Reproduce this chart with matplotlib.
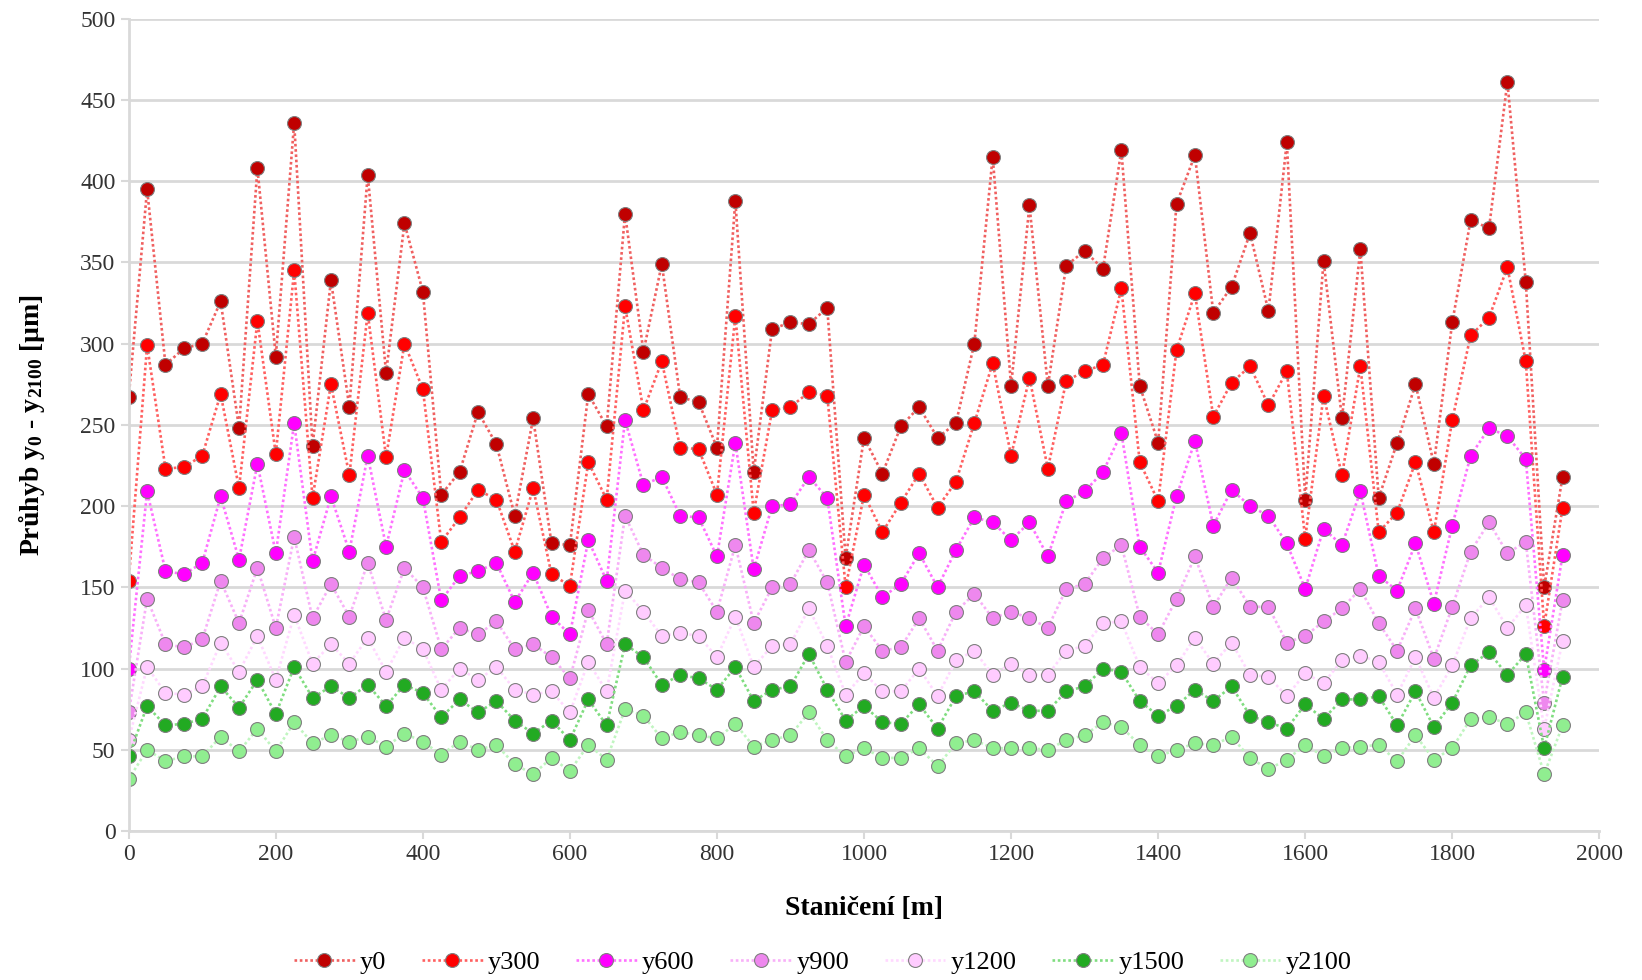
import numpy as np
import matplotlib
matplotlib.use('Agg')
from matplotlib import pyplot as plt

plt.rcParams['font.family'] = 'Liberation Serif'
plt.rcParams['mathtext.fontset'] = 'custom'
plt.rcParams['mathtext.rm'] = 'Liberation Serif:bold'
plt.rcParams['mathtext.it'] = 'Liberation Serif:bold'
plt.rcParams['mathtext.bf'] = 'Liberation Serif:bold'

staniceni = np.arange(0, 1951, 25)

y0 = [267, 395, 287, 297, 300, 326, 248, 408, 292, 436, 237, 339, 261, 404, 282, 374,
      332, 207, 221, 258, 238, 194, 254, 177, 176, 269, 249, 380, 295, 349, 267, 264,
      236, 388, 221, 309, 313, 312, 322, 168, 242, 220, 249, 261, 242, 251, 300, 415,
      274, 385, 274, 348, 357, 346, 419, 274, 239, 386, 416, 319, 335, 368, 320, 424,
      204, 351, 254, 358, 205, 239, 275, 226, 313, 376, 371, 461, 338, 150, 218]
y300 = [154, 299, 223, 224, 231, 269, 211, 314, 232, 345, 205, 275, 219, 319, 230, 300,
        272, 178, 193, 210, 204, 172, 211, 158, 151, 227, 204, 323, 259, 289, 236, 235,
        207, 317, 196, 259, 261, 270, 268, 150, 207, 184, 202, 220, 199, 215, 251, 288,
        231, 279, 223, 277, 283, 287, 334, 227, 203, 296, 331, 255, 276, 286, 262, 283,
        180, 268, 219, 286, 184, 196, 227, 184, 253, 305, 316, 347, 289, 126, 199]
y600 = [100, 209, 160, 158, 165, 206, 167, 226, 171, 251, 166, 206, 172, 231, 175, 222,
        205, 142, 157, 160, 165, 141, 159, 132, 121, 179, 154, 253, 213, 218, 194, 193,
        169, 239, 161, 200, 201, 218, 205, 126, 164, 144, 152, 171, 150, 173, 193, 190,
        179, 190, 169, 203, 209, 221, 245, 175, 159, 206, 240, 188, 210, 200, 194, 177,
        149, 186, 176, 209, 157, 148, 177, 140, 188, 231, 248, 243, 229, 99, 170]
y900 = [73, 143, 115, 113, 118, 154, 128, 162, 125, 181, 131, 152, 132, 165, 130, 162,
        150, 112, 125, 121, 129, 112, 115, 107, 94, 136, 115, 194, 170, 162, 155, 153,
        135, 176, 128, 150, 152, 173, 153, 104, 126, 111, 113, 131, 111, 135, 146, 131,
        135, 131, 125, 149, 152, 168, 176, 132, 121, 143, 169, 138, 156, 138, 138, 116,
        120, 129, 137, 149, 128, 111, 137, 106, 138, 172, 190, 171, 178, 79, 142]
y1200 = [56, 101, 85, 84, 89, 116, 98, 120, 93, 133, 103, 115, 103, 119, 98, 119,
         112, 87, 100, 93, 101, 87, 84, 86, 73, 104, 86, 148, 135, 120, 122, 120,
         107, 132, 101, 114, 115, 137, 114, 84, 97, 86, 86, 100, 83, 105, 111, 96,
         103, 96, 96, 111, 114, 128, 129, 101, 91, 102, 119, 103, 116, 96, 95, 83,
         97, 91, 105, 108, 104, 84, 107, 82, 102, 131, 144, 125, 139, 63, 117]
y1500 = [46, 77, 65, 66, 69, 89, 76, 93, 72, 101, 82, 89, 82, 90, 77, 90,
         85, 70, 81, 73, 80, 68, 60, 68, 56, 81, 65, 115, 107, 90, 96, 94,
         87, 101, 80, 87, 89, 109, 87, 68, 77, 67, 66, 78, 63, 83, 86, 74,
         79, 74, 74, 86, 89, 100, 98, 80, 71, 77, 87, 80, 89, 71, 67, 63,
         78, 69, 81, 81, 83, 65, 86, 64, 79, 102, 110, 96, 109, 51, 95]
y2100 = [32, 50, 43, 46, 46, 58, 49, 63, 49, 67, 54, 59, 55, 58, 52, 60,
         55, 47, 55, 50, 53, 41, 35, 45, 37, 53, 44, 75, 71, 57, 61, 59,
         57, 66, 52, 56, 59, 73, 56, 46, 51, 45, 45, 51, 40, 54, 56, 51,
         51, 51, 50, 56, 59, 67, 64, 53, 46, 50, 54, 53, 58, 45, 38, 44,
         53, 46, 51, 52, 53, 43, 59, 44, 51, 69, 70, 66, 73, 35, 65]

# name, values, marker fill, line colour
series = [
    ('y0', y0, '#C00000', '#F06060'),
    ('y300', y300, '#FF0000', '#FF6060'),
    ('y600', y600, '#FF00FF', '#FF70FF'),
    ('y900', y900, '#EE88EE', '#F8B0F8'),
    ('y1200', y1200, '#FFCCFF', '#FFD8FF'),
    ('y1500', y1500, '#22AA22', '#80DD80'),
    ('y2100', y2100, '#90EE90', '#C0F5C0'),
]

fig = plt.figure(figsize=(16.42, 9.8), dpi=100)
ax = fig.add_axes([0.0784, 0.152, 0.8956, 0.829])

for name, vals, mc, lc in series:
    ax.plot(staniceni, vals, linestyle=(0, (1, 1)), color=lc, linewidth=1.9,
            marker='o', markersize=10, markerfacecolor=mc,
            markeredgecolor='#808080', markeredgewidth=0.8, label=name)

ax.set_xlim(0, 2000)
ax.set_ylim(0, 500)
ax.set_xticks(np.arange(0, 2001, 200))
ax.set_yticks(np.arange(0, 501, 50))
ax.yaxis.grid(True, color='#D9D9D9', linewidth=2)
ax.set_axisbelow(True)
for s in ['top', 'right']:
    ax.spines[s].set_visible(False)
for s in ['left', 'bottom']:
    ax.spines[s].set_color('#D9D9D9')
    ax.spines[s].set_linewidth(2)
ax.tick_params(axis='both', colors='#D9D9D9', labelcolor='#333333',
               labelsize=17, length=6, width=1.5)

ax.set_xlabel('Staničení [m]', fontsize=20, fontweight='bold', labelpad=22)
ax.set_ylabel(r'Průhyb y$_{0}$ - y$_{2100}$ [µm]', fontsize=20, fontweight='bold', labelpad=24)

ax.legend(loc='upper center', bbox_to_anchor=(0.472, -0.118), ncol=7, frameon=False,
          fontsize=19, handlelength=2.3, columnspacing=1.35, handletextpad=0.2)

plt.savefig('out.png', dpi=100)
